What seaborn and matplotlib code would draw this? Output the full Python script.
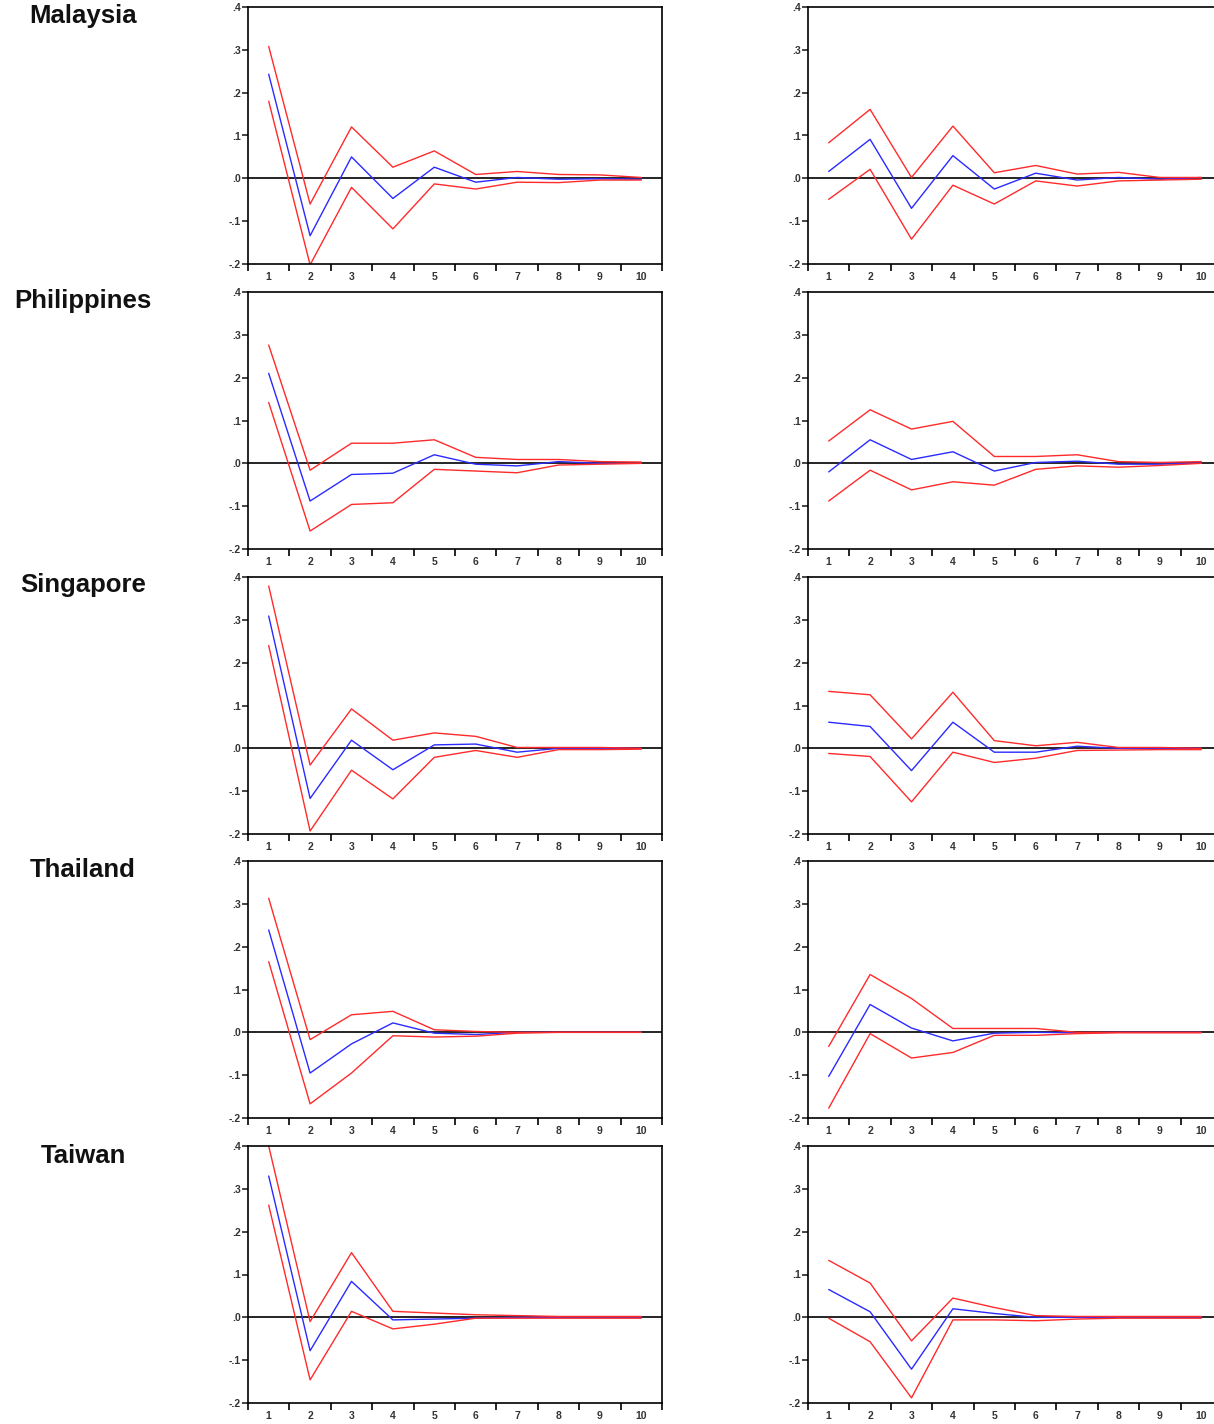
import numpy as np
import pandas as pd
import matplotlib
matplotlib.use("Agg")
import matplotlib.pyplot as plt
import seaborn as sns
from matplotlib.ticker import FixedLocator

sns.set_style("white")
plt.rcParams['font.family'] = ['Liberation Sans', 'DejaVu Sans']

periods = [1, 2, 3, 4, 5, 6, 7, 8, 9, 10]
countries = ["Malaysia", "Philippines", "Singapore", "Thailand", "Taiwan"]

# Malaysia
mal_left_resp = [0.243, -0.134, 0.050, -0.047, 0.026, -0.009, 0.002, -0.002, -0.001, -0.002]
mal_left_up   = [0.308, -0.060, 0.120, 0.026, 0.064, 0.009, 0.016, 0.009, 0.008, 0.002]
mal_left_lo   = [0.180, -0.202, -0.021, -0.118, -0.013, -0.025, -0.009, -0.010, -0.004, -0.004]
mal_right_resp = [0.016, 0.091, -0.070, 0.053, -0.025, 0.012, -0.004, 0.002, -0.002, 0.002]
mal_right_up   = [0.083, 0.161, 0.002, 0.122, 0.013, 0.030, 0.010, 0.014, 0.002, 0.002]
mal_right_lo   = [-0.049, 0.021, -0.142, -0.016, -0.060, -0.006, -0.018, -0.006, -0.004, -0.002]

# Philippines
phi_left_resp = [0.210, -0.088, -0.026, -0.023, 0.020, -0.002, -0.006, 0.004, 0.000, 0.000]
phi_left_up   = [0.276, -0.016, 0.047, 0.047, 0.055, 0.014, 0.009, 0.009, 0.004, 0.003]
phi_left_lo   = [0.142, -0.158, -0.096, -0.092, -0.014, -0.018, -0.022, -0.004, -0.002, 0.000]
phi_right_resp = [-0.020, 0.055, 0.009, 0.027, -0.018, 0.002, 0.005, -0.002, -0.002, 0.001]
phi_right_up   = [0.052, 0.125, 0.080, 0.098, 0.016, 0.016, 0.020, 0.004, 0.002, 0.004]
phi_right_lo   = [-0.088, -0.016, -0.062, -0.043, -0.051, -0.014, -0.006, -0.009, -0.005, 0.000]

# Singapore
sin_left_resp = [0.309, -0.117, 0.019, -0.050, 0.008, 0.010, -0.009, 0.000, 0.000, 0.000]
sin_left_up   = [0.379, -0.039, 0.092, 0.019, 0.036, 0.028, 0.002, 0.002, 0.002, 0.000]
sin_left_lo   = [0.240, -0.193, -0.051, -0.118, -0.021, -0.005, -0.021, -0.003, -0.003, -0.002]
sin_right_resp = [0.061, 0.051, -0.052, 0.061, -0.009, -0.009, 0.005, 0.000, 0.000, 0.000]
sin_right_up   = [0.133, 0.125, 0.022, 0.131, 0.018, 0.006, 0.014, 0.002, 0.002, 0.000]
sin_right_lo   = [-0.012, -0.019, -0.125, -0.009, -0.033, -0.023, -0.005, -0.004, -0.003, -0.003]

# Thailand
tha_left_resp = [0.239, -0.095, -0.027, 0.022, -0.002, -0.005, 0.000, 0.000, 0.000, 0.000]
tha_left_up   = [0.313, -0.017, 0.041, 0.049, 0.006, 0.002, 0.000, 0.000, 0.000, 0.000]
tha_left_lo   = [0.165, -0.167, -0.095, -0.008, -0.011, -0.009, -0.002, 0.000, 0.000, 0.000]
tha_right_resp = [-0.103, 0.065, 0.010, -0.020, -0.002, 0.000, -0.001, 0.000, 0.000, 0.000]
tha_right_up   = [-0.033, 0.135, 0.079, 0.009, 0.009, 0.009, 0.000, 0.000, 0.000, 0.000]
tha_right_lo   = [-0.177, -0.003, -0.060, -0.047, -0.007, -0.007, -0.003, -0.001, -0.001, -0.001]

# Taiwan
tai_left_resp = [0.330, -0.078, 0.084, -0.006, -0.004, -0.002, 0.000, 0.000, 0.000, 0.000]
tai_left_up   = [0.400, -0.010, 0.151, 0.014, 0.010, 0.006, 0.004, 0.002, 0.002, 0.002]
tai_left_lo   = [0.262, -0.146, 0.014, -0.027, -0.016, -0.002, -0.002, -0.002, -0.002, -0.002]
tai_right_resp = [0.065, 0.013, -0.121, 0.020, 0.009, 0.000, 0.000, 0.000, 0.000, 0.000]
tai_right_up   = [0.133, 0.080, -0.055, 0.045, 0.023, 0.004, 0.002, 0.002, 0.002, 0.002]
tai_right_lo   = [-0.002, -0.057, -0.188, -0.006, -0.006, -0.008, -0.004, -0.002, -0.002, -0.002]

panels = [
    [(mal_left_resp, mal_left_up, mal_left_lo), (mal_right_resp, mal_right_up, mal_right_lo)],
    [(phi_left_resp, phi_left_up, phi_left_lo), (phi_right_resp, phi_right_up, phi_right_lo)],
    [(sin_left_resp, sin_left_up, sin_left_lo), (sin_right_resp, sin_right_up, sin_right_lo)],
    [(tha_left_resp, tha_left_up, tha_left_lo), (tha_right_resp, tha_right_up, tha_right_lo)],
    [(tai_left_resp, tai_left_up, tai_left_lo), (tai_right_resp, tai_right_up, tai_right_lo)],
]

y_ticks = [-0.2, -0.1, 0.0, 0.1, 0.2, 0.3, 0.4]
y_labels = ["-.2", "-.1", ".0", ".1", ".2", ".3", ".4"]

W, H = 1214, 1424
fig = plt.figure(figsize=(W / 100, H / 100), dpi=100)

col_x = [248, 808]
ax_w = 414
ax_h = 257
row_top = [7, 292, 577, 861, 1146]
label_y = [16, 301, 585, 870, 1156]

palette = {"resp": "#2a2aff", "up": "#ff2a2a", "lo": "#ff2a2a"}

for r, country in enumerate(countries):
    fig.text(83 / W, 1 - label_y[r] / H, country, ha="center", va="center",
             fontsize=18.5, fontweight="bold", color="#111111")
    for c in range(2):
        resp, up, lo = panels[r][c]
        ax = fig.add_axes([col_x[c] / W, 1 - (row_top[r] + ax_h) / H, ax_w / W, ax_h / H])
        df = pd.DataFrame({
            "period": periods * 3,
            "value": list(resp) + list(up) + list(lo),
            "series": ["resp"] * 10 + ["up"] * 10 + ["lo"] * 10,
        })
        ax.axhline(0, color="black", lw=1.2, zorder=1)
        sns.lineplot(data=df, x="period", y="value", hue="series", units="series",
                     estimator=None, palette=palette, legend=False, lw=1.0, ax=ax,
                     zorder=2)
        ax.set_xlim(0.5, 10.5)
        ax.set_ylim(-0.2, 0.4)
        ax.set_xlabel("")
        ax.set_ylabel("")
        ax.set_yticks(y_ticks)
        ax.set_yticklabels(y_labels)
        ax.xaxis.set_major_locator(FixedLocator(periods))
        ax.xaxis.set_minor_locator(FixedLocator([p + 0.5 for p in [0] + periods]))
        ax.set_xticklabels([str(p) for p in periods])
        ax.tick_params(axis="x", which="major", length=0, labelsize=7.5, pad=6,
                       labelcolor="#333333")
        ax.tick_params(axis="x", which="minor", length=5, width=1.2, direction="out",
                       color="black", bottom=True)
        ax.tick_params(axis="y", which="major", length=4, width=1.2, direction="out",
                       labelsize=7.5, pad=1, labelcolor="#333333", left=True)
        for sp in ax.spines.values():
            sp.set_color("black")
            sp.set_linewidth(1.2)
            sp.set_visible(True)
        for lab in ax.get_xticklabels() + ax.get_yticklabels():
            lab.set_fontweight("bold")

fig.savefig("out.png", dpi=100)
